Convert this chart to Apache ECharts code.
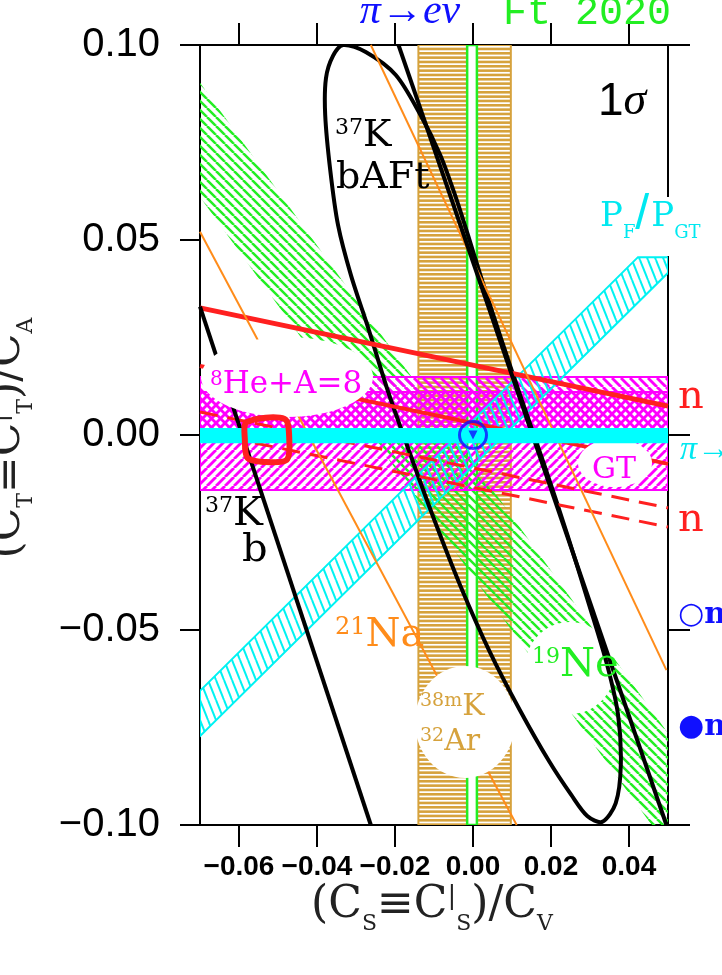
<!DOCTYPE html>
<html><head><meta charset="utf-8">
<script src="https://cdn.jsdelivr.net/npm/echarts@6/dist/echarts.min.js"></script>
<style>html,body{margin:0;padding:0;background:#fff}#c{width:722px;height:975px}</style>
</head><body><div id="c"></div>
<script>
// ---------- data ----------
const X_MIN = -0.07, X_MAX = 0.05, Y_MIN = -0.10, Y_MAX = 0.10;
const xTicks = [-0.06, -0.04, -0.02, 0.00, 0.02, 0.04];
const yTicks = [-0.10, -0.05, 0.00, 0.05, 0.10];
// vertical bands (x ranges)
const ftBandX = [-0.014, 0.0097];      // 38mK / 32Ar  Ft
const ft2020X = [-0.0015, 0.0010];     // Ft 2020
// horizontal bands (y ranges)
const pienuY = [-0.0021, 0.0018];      // pi -> e nu
const he8AY = [0.0000, 0.0149];        // 8He+A=8 (\\\ hatch)
const he8BY = [-0.0141, 0.0110];       // GT (/// hatch)
// slanted bands (polygon vertices)
const pfpgtBand = [[-0.07, -0.0656], [0.0423, 0.0456], [0.05, 0.0456], [0.05, 0.0416], [-0.07, -0.0772]];
const ne19Band = [[-0.07, 0.0903], [0.05, -0.0765], [0.05, -0.10], [0.0458, -0.10], [-0.07, 0.061]];
// neutron lines
const nSolid1 = [[-0.07, 0.0326], [0.05, 0.0074]];
const nSolid2 = [[-0.07, 0.0177], [0.05, -0.0074]];
const nDash1 = [[-0.07, 0.0059], [0.05, -0.0187]];
const nDash2 = [[-0.07, 0.0008], [0.05, -0.0236]];
// 21Na lines
const na21Line1 = [[-0.07, 0.0521], [0.0112, -0.10]];
const na21Line2 = [[-0.0262, 0.10], [0.0496, -0.0603]];
// 37K b lines
const k37bLeft = [[-0.07, 0.0329], [-0.0262, -0.10]];
const k37bRight = [[-0.0191, 0.10], [0.0496, -0.10]];
// 37K bAFt contour
const k37Ellipse = [
  [-0.0333, 0.1000], [-0.0275, 0.0982], [-0.0198, 0.0923], [-0.0135, 0.0821], [-0.0084, 0.0718],
  [-0.0046, 0.0615], [-0.0013, 0.0513], [0.0023, 0.0397], [0.0069, 0.0256], [0.0125, 0.0090],
  [0.0183, -0.0077], [0.0242, -0.0256], [0.0298, -0.0436], [0.0344, -0.0590], [0.0372, -0.0718],
  [0.0379, -0.0846], [0.0366, -0.0944], [0.0331, -0.0992], [0.0293, -0.0977], [0.0252, -0.0923],
  [0.0196, -0.0838], [0.0120, -0.0705], [0.0043, -0.0556], [-0.0033, -0.0385], [-0.0104, -0.0205],
  [-0.0165, -0.0038], [-0.0219, 0.0115], [-0.0267, 0.0269], [-0.0313, 0.0410], [-0.0346, 0.0538],
  [-0.0366, 0.0679], [-0.0379, 0.0821], [-0.0377, 0.0915], [-0.0359, 0.0972]
];
// 8He contour
const he8Contour = [[-0.0580, 0.0033], [-0.0483, 0.0041], [-0.0471, -0.0013], [-0.0478, -0.0064],
  [-0.0537, -0.0069], [-0.0578, -0.0059], [-0.0585, -0.0013]];
// pi->e nu / Ft combined point
const originPoint = [[0.0, 0.0]];

// ---------- helpers ----------
function hatch(color, lw, p, k, dir) {
  const c = document.createElement('canvas');
  const W = p, H = Math.round(p * k);
  c.width = W; c.height = H;
  const ctx = c.getContext('2d');
  ctx.strokeStyle = color; ctx.lineWidth = lw;
  for (let n = -2; n <= 2; n++) {
    ctx.beginPath();
    if (dir > 0) { ctx.moveTo(n * p, 0); ctx.lineTo(n * p + p, H); }
    else { ctx.moveTo(n * p + p, 0); ctx.lineTo(n * p, H); }
    ctx.stroke();
  }
  return { image: c, repeat: 'repeat' };
}
function hStripes(color) {
  const c = document.createElement('canvas');
  c.width = 4; c.height = 13;
  const ctx = c.getContext('2d');
  ctx.fillStyle = color;
  for (let i = 0; i < 3; i++) ctx.fillRect(0, i * 13 / 3, 4, 2.6);
  return { image: c, repeat: 'repeat' };
}
function rectPts(xr, yr) { return [[xr[0], yr[0]], [xr[1], yr[0]], [xr[1], yr[1]], [xr[0], yr[1]]]; }
function poly(pts, style, z, smooth) {
  return {
    type: 'custom', coordinateSystem: 'cartesian2d', clip: true, silent: true, z: z,
    data: [pts[0]],
    renderItem: function (params, api) {
      return { type: 'polygon', shape: { points: pts.map(p => api.coord(p)), smooth: smooth || 0 }, style: style };
    }
  };
}
function line(pts, color, width, type, z) {
  return { type: 'line', data: pts, symbol: 'none', showSymbol: false, silent: true, z: z,
    lineStyle: { color: color, width: width, type: type || 'solid' } };
}
const fmt = v => (v < 0 ? '\u2212' : '') + Math.abs(v).toFixed(2);

const GOLD = '#d6a23c', GREEN = '#22ee22', MAG = '#ff00ff', CYAN = '#00f2f2', RED = '#ff2020',
  ORANGE = '#ff8c1a', BLUE = '#1010ff';
const serif = '"DejaVu Serif"';

const series = [
  poly(rectPts(ftBandX, [Y_MIN, Y_MAX]), { fill: hStripes(GOLD), stroke: GOLD, lineWidth: 2 }, 2),
  poly(rectPts(ft2020X, [Y_MIN, Y_MAX]), { fill: '#fff', stroke: GREEN, lineWidth: 2.5 }, 2),
  poly(ne19Band, { fill: hatch(GREEN, 2.5, 9, 1, 1), stroke: 'rgba(0,0,0,0)' }, 2),
  poly(rectPts([X_MIN, X_MAX], he8AY), { fill: hatch(MAG, 2.8, 9, 1, 1), stroke: MAG, lineWidth: 2 }, 2),
  poly(rectPts([X_MIN, X_MAX], he8BY), { fill: hatch(MAG, 2.8, 9, 1, -1), stroke: MAG, lineWidth: 2 }, 2),
  poly(pfpgtBand, { fill: hatch(CYAN, 2, 8, 2.5, 1), stroke: CYAN, lineWidth: 2 }, 2),
  line(nSolid1, RED, 5, 'solid', 4),
  line(nSolid2, RED, 4, 'solid', 4),
  line(nDash1, RED, 3, [18, 10], 4),
  line(nDash2, RED, 3, [18, 10], 4),
  line(na21Line1, ORANGE, 2, 'solid', 4),
  line(na21Line2, ORANGE, 2, 'solid', 4),
  line(k37bLeft, '#000', 4, 'solid', 4),
  line(k37bRight, '#000', 4, 'solid', 4),
  poly(k37Ellipse, { fill: 'none', stroke: '#000', lineWidth: 4 }, 4, 0.3),
  poly(rectPts([X_MIN, X_MAX], pienuY), { fill: '#00ffff', stroke: 'none' }, 6),
  poly(he8Contour, { fill: 'none', stroke: RED, lineWidth: 6 }, 7, 0.3),
  { type: 'scatter', data: originPoint, symbol: 'circle', symbolSize: 27, silent: true, z: 7,
    itemStyle: { color: 'rgba(255,255,255,0)', borderColor: BLUE, borderWidth: 3 } },
  { type: 'scatter', data: originPoint, symbol: 'triangle', symbolRotate: 180, symbolSize: 9, silent: true, z: 7,
    itemStyle: { color: BLUE } }
];

function rt(x, y, text, color, rich, extra) {
  const r = {};
  for (const k in rich) r[k] = Object.assign({ fill: color, verticalAlign: 'top' }, rich[k]);
  return Object.assign({ type: 'text', x: x, y: y, z: 10, silent: true,
    style: Object.assign({ text: text, fill: color, align: 'left', verticalAlign: 'middle', rich: r }, extra || {}) });
}
const iso = (sb, ss, fam) => ({
  b: { fontSize: sb, lineHeight: sb, fontFamily: fam || serif },
  s: { fontSize: ss, lineHeight: ss, fontFamily: fam || serif }
});

const titleRich = {
  b: { fontSize: 44, lineHeight: 44, fontFamily: '"DejaVu Serif"' },
  sub: { fontSize: 22, lineHeight: 22, padding: [29, 0, 0, 0], fontFamily: '"DejaVu Serif"' },
  sup: { fontSize: 26, lineHeight: 26, fontFamily: '"DejaVu Serif"' }
};

const graphic = [
  // white label backgrounds
  { type: 'ellipse', z: 3, silent: true, shape: { cx: 570, cy: 668, rx: 45, ry: 46 }, style: { fill: '#fff' } },
  { type: 'ellipse', z: 5, silent: true, shape: { cx: 287, cy: 377, rx: 86, ry: 40 }, style: { fill: '#fff' } },
  { type: 'ellipse', z: 5, silent: true, shape: { cx: 615, cy: 463, rx: 37, ry: 24 }, style: { fill: '#fff' } },
  { type: 'ellipse', z: 5, silent: true, shape: { cx: 465, cy: 722, rx: 50, ry: 56 }, style: { fill: '#fff' } },
  { type: 'rect', z: 5, silent: true, shape: { x: 598, y: 197, width: 124, height: 59 }, style: { fill: '#fff' } },
  // top texts
  { type: 'text', x: 410, y: 12, z: 10, silent: true, style: { text: 'π→eν', fill: BLUE, font: 'italic 42px "Liberation Serif"', align: 'center', verticalAlign: 'middle' } },
  { type: 'text', x: 587, y: 13, z: 10, silent: true, style: { text: 'Ft 2020', fill: GREEN, font: '40px "Liberation Mono"', align: 'center', verticalAlign: 'middle' } },
  rt(598, 102, '{a|1}{g|σ}', '#000', {
    a: { fontSize: 46, lineHeight: 46, fontFamily: '"Liberation Sans"' },
    g: { fontSize: 46, lineHeight: 46, fontFamily: '"Liberation Serif"', fontStyle: 'italic' }
  }),
  // in-plot labels
  rt(335, 136, '{s|37}{b|K}', '#000', iso(38, 22)),
  rt(336, 178, '{b|bAFt}', '#000', iso(38, 22)),
  rt(205, 515, '{s|37}{b|K}', '#000', iso(40, 22)),
  rt(242, 551, '{b|b}', '#000', iso(40, 22)),
  rt(210, 385, '{s|8}{b|He+A=8}', MAG, iso(31, 20)),
  rt(614, 470, '{b|GT}', MAG, iso(30, 20), { align: 'center' }),
  rt(420, 707, '{s|38m}{b|K}', GOLD, iso(30, 19)),
  rt(420, 742, '{s|32}{b|Ar}', GOLD, iso(30, 19)),
  rt(532, 666, '{s|19}{b|Ne}', GREEN, iso(40, 22)),
  rt(335, 636, '{s|21}{b|Na}', ORANGE, iso(40, 24)),
  // right-hand labels
  rt(678, 398, '{b|n}', RED, iso(40, 20)),
  rt(678, 521, '{b|n}', RED, iso(40, 20)),
  { type: 'text', x: 680, y: 450, z: 10, silent: true, style: { text: 'π→eν', fill: '#00e8f0', font: 'italic 34px "Liberation Serif"', align: 'left', verticalAlign: 'middle' } },
  { type: 'text', x: 678, y: 615, z: 10, silent: true, style: { text: '○n', fill: BLUE, font: 'bold 30px "DejaVu Serif"', align: 'left', verticalAlign: 'middle' } },
  { type: 'text', x: 678, y: 727, z: 10, silent: true, style: { text: '●n', fill: BLUE, font: 'bold 30px "DejaVu Serif"', align: 'left', verticalAlign: 'middle' } },
  rt(600, 225, '{b|P}{s|F}{l|/}{b|P}{s|GT}', '#00e8f0', {
    b: { fontSize: 34, lineHeight: 34, fontFamily: serif },
    s: { fontSize: 18, lineHeight: 18, padding: [24, 0, 0, 0], fontFamily: serif },
    l: { fontSize: 50, lineHeight: 50, padding: [-10, 2, 0, 0], fontFamily: '"Liberation Sans"' }
  }),
  // axis titles
  rt(432, 906, '{b|(C}{sub|S}{b|≡C}{sup||}{sub|S}{b|)/C}{sub|V}', '#222', titleRich, { align: 'center' }),
  Object.assign(rt(8, 438, '{b|(C}{sub|T}{b|≡C}{sup||}{sub|T}{b|)/C}{sub|A}', '#222', titleRich, { align: 'center' }), { rotation: Math.PI / 2 })
];

const axisLine = { show: true, onZero: false, lineStyle: { color: '#000', width: 2 } };
const tickStyle = { color: '#000', width: 2 };
const option = {
  animation: false,
  backgroundColor: '#fff',
  grid: { left: 200, right: 54, top: 45, bottom: 150, containLabel: false, outerBoundsMode: 'none' },
  xAxis: [
    { type: 'value', min: X_MIN, max: X_MAX, position: 'bottom', axisLine: axisLine,
      axisTick: { show: true, customValues: xTicks, length: 22, inside: false, lineStyle: tickStyle },
      axisLabel: { show: true, customValues: xTicks, formatter: fmt, fontSize: 28, fontWeight: 'bold',
        fontFamily: '"Liberation Sans"', color: '#000', margin: 28, hideOverlap: false },
      splitLine: { show: false } },
    { type: 'value', min: X_MIN, max: X_MAX, position: 'top', axisLine: axisLine,
      axisTick: { show: true, customValues: xTicks, length: 22, inside: false, lineStyle: tickStyle },
      axisLabel: { show: false }, splitLine: { show: false } }
  ],
  yAxis: [
    { type: 'value', min: Y_MIN, max: Y_MAX, interval: 0.05, position: 'left', axisLine: axisLine,
      axisTick: { show: true, length: 20, inside: false, lineStyle: tickStyle },
      axisLabel: { show: true, formatter: fmt, fontSize: 40, fontFamily: '"Liberation Sans"', color: '#000', margin: 40 },
      splitLine: { show: false } },
    { type: 'value', min: Y_MIN, max: Y_MAX, interval: 0.05, position: 'right', axisLine: axisLine,
      axisTick: { show: true, length: 22, inside: false, lineStyle: tickStyle },
      axisLabel: { show: false }, splitLine: { show: false } }
  ],
  series: series,
  graphic: graphic
};
const chart = echarts.init(document.getElementById('c'), null, { renderer: 'canvas' });
chart.setOption(option);
</script>
</body></html>
